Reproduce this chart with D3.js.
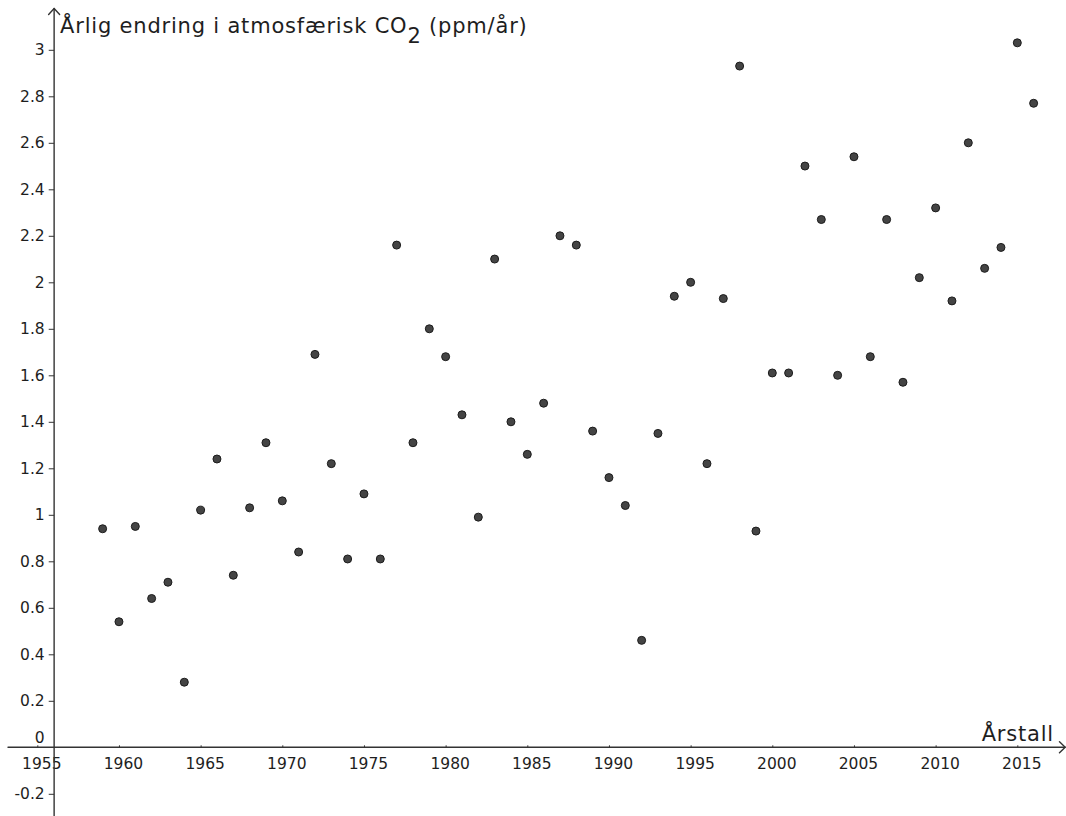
<!DOCTYPE html>
<html lang="no">
<head>
<meta charset="utf-8">
<title>Årlig endring i atmosfærisk CO2</title>
<script src="https://cdn.jsdelivr.net/npm/d3@7/dist/d3.min.js"></script>
<style>
  html, body { margin: 0; padding: 0; background: #fff; }
  svg { display: block; font-family: "DejaVu Sans", sans-serif; }
</style>
</head>
<body>
<svg id="chart" width="1066" height="816"></svg>
<script>
// Annual growth of atmospheric CO2 (ppm per year), 1959–2016
const years = [
  1959, 1960, 1961, 1962, 1963, 1964, 1965, 1966, 1967, 1968,
  1969, 1970, 1971, 1972, 1973, 1974, 1975, 1976, 1977, 1978,
  1979, 1980, 1981, 1982, 1983, 1984, 1985, 1986, 1987, 1988,
  1989, 1990, 1991, 1992, 1993, 1994, 1995, 1996, 1997, 1998,
  1999, 2000, 2001, 2002, 2003, 2004, 2005, 2006, 2007, 2008,
  2009, 2010, 2011, 2012, 2013, 2014, 2015, 2016
];
const growth = [
  0.94, 0.54, 0.95, 0.64, 0.71, 0.28, 1.02, 1.24, 0.74, 1.03,
  1.31, 1.06, 0.84, 1.69, 1.22, 0.81, 1.09, 0.81, 2.16, 1.31,
  1.80, 1.68, 1.43, 0.99, 2.10, 1.40, 1.26, 1.48, 2.20, 2.16,
  1.36, 1.16, 1.04, 0.46, 1.35, 1.94, 2.00, 1.22, 1.93, 2.93,
  0.93, 1.61, 1.61, 2.50, 2.27, 1.60, 2.54, 1.68, 2.27, 1.57,
  2.02, 2.32, 1.92, 2.60, 2.06, 2.15, 3.03, 2.77
];

const xTicks = [1955, 1960, 1965, 1970, 1975, 1980, 1985, 1990, 1995, 2000, 2005, 2010, 2015];
const yTicks = [-0.2, 0.2, 0.4, 0.6, 0.8, 1, 1.2, 1.4, 1.6, 1.8, 2, 2.2, 2.4, 2.6, 2.8, 3];
const yTickLabels = ["-0.2", "0.2", "0.4", "0.6", "0.8", "1", "1.2", "1.4", "1.6", "1.8", "2", "2.2", "2.4", "2.6", "2.8", "3"];
const xTitle = "Årstall";
const yTitleMain = "Årlig endring i atmosfærisk CO";
const yTitleSub = "2";
const yTitleTail = " (ppm/år)";

const W = 1066, H = 816;
const svg = d3.select("#chart");

// Coordinate system: 1955 → 37.3 px, 2015 → 1017.3 px; 0 → 747.3 px, 3 → 49.8 px
const x = d3.scaleLinear().domain([1955, 2015]).range([37.3, 1017.3]);
const y = d3.scaleLinear().domain([0, 3]).range([747.3, 49.8]);

const axisColor = "#333";
const textColor = "#1e1e1e";
const tickFont = "15.5px";
const originX = x(1956.03);   // vertical axis position
const originY = y(0);          // horizontal axis position

// Horizontal axis ticks and labels
const xAxis = d3.axisBottom(x)
  .tickValues(xTicks)
  .tickFormat(d3.format("d"))
  .tickSizeInner(-2)
  .tickSizeOuter(0)
  .tickPadding(10.7);
const gx = svg.append("g")
  .attr("transform", `translate(0,${originY})`)
  .call(xAxis)
  .attr("font-family", "DejaVu Sans")
  .attr("font-size", tickFont);
gx.select(".domain").remove();
gx.selectAll(".tick line").attr("stroke", axisColor).attr("stroke-width", 1);
gx.selectAll(".tick text")
  .attr("dx", 4)
  .attr("fill", textColor);

// Vertical axis ticks and labels
const yAxis = d3.axisLeft(y)
  .tickValues(yTicks)
  .tickFormat((d, i) => yTickLabels[i])
  .tickSizeInner(5.4)
  .tickSizeOuter(0)
  .tickPadding(4);
const gy = svg.append("g")
  .attr("transform", `translate(${originX},0)`)
  .call(yAxis)
  .attr("font-family", "DejaVu Sans")
  .attr("font-size", tickFont);
gy.select(".domain").remove();
gy.selectAll(".tick line").attr("stroke", axisColor).attr("stroke-width", 1);
gy.selectAll(".tick text").attr("fill", textColor);

// Zero label sits just above the horizontal axis
svg.append("text")
  .attr("x", originX - 9.5)
  .attr("y", originY - 4.5)
  .attr("text-anchor", "end")
  .attr("fill", textColor)
  .style("font-size", tickFont)
  .text("0");

// Axis lines with open arrow heads
const axes = svg.append("g")
  .attr("stroke", axisColor)
  .attr("stroke-width", 1.4)
  .attr("fill", "none")
  .attr("stroke-linecap", "round")
  .attr("stroke-linejoin", "round");
axes.append("line")
  .attr("x1", 8).attr("y1", originY)
  .attr("x2", W - 0.8).attr("y2", originY);
axes.append("path")
  .attr("d", `M${W - 6.5},${originY - 5.5} L${W - 0.8},${originY} L${W - 6.5},${originY + 5.5}`);
axes.append("line")
  .attr("x1", originX).attr("y1", H)
  .attr("x2", originX).attr("y2", 8.5);
axes.append("path")
  .attr("d", `M${originX - 5.5},${14.5} L${originX},${8.5} L${originX + 5.5},${14.5}`);

// Axis titles
svg.append("text")
  .attr("x", W - 12)
  .attr("y", originY - 6.5)
  .attr("text-anchor", "end")
  .attr("fill", textColor)
  .style("font-size", "21px")
  .style("letter-spacing", "0.8px")
  .text(xTitle);

const yTitle = svg.append("text")
  .attr("x", originX + 6)
  .attr("y", 33)
  .attr("fill", textColor)
  .style("font-size", "21px")
  .style("letter-spacing", "0.8px");
yTitle.append("tspan").text(yTitleMain);
yTitle.append("tspan").attr("dy", 10).text(yTitleSub);
yTitle.append("tspan").attr("dy", -10).text(yTitleTail);

// Data points
const data = years.map((yr, i) => ({ year: yr, value: growth[i] }));
svg.append("g")
  .selectAll("circle")
  .data(data)
  .join("circle")
  .attr("cx", d => x(d.year))
  .attr("cy", d => y(d.value))
  .attr("r", 4)
  .attr("fill", "#444")
  .attr("stroke", "#1c1c1c")
  .attr("stroke-width", 1);
</script>
</body>
</html>
